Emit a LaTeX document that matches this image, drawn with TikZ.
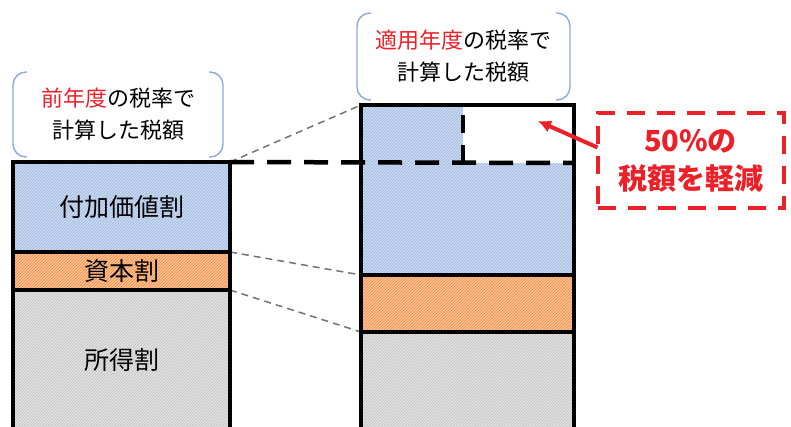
\documentclass[tikz,border=0pt]{standalone}
\usepackage{fontspec}
\setmainfont{Noto Sans CJK JP}
\usetikzlibrary{positioning, arrows.meta, patterns}
\definecolor{vablue}{HTML}{CCDBF0}
\definecolor{vabluedk}{HTML}{98B3DE}
\definecolor{caporange}{HTML}{FBC29A}
\definecolor{caporangedk}{HTML}{F48A36}
\definecolor{incgray}{HTML}{E4E4E4}
\definecolor{incgraydk}{HTML}{BDBDBD}
\definecolor{cutred}{HTML}{EC2028}
\definecolor{bracketblue}{HTML}{8EA9D8}
\tikzset{%
  >={Latex[width=13pt,length=13pt]},
  % Specifications for style of nodes:
  base/.style = {
    inner sep=0pt,
    outer sep=0pt,
    text centered,
    font=\fontsize{25}{28}\selectfont
  },
  segment/.style 2 args={base, anchor=north west,
    preaction={fill=#1},
    preaction={pattern=north east lines, pattern color=#2}},
  valueadd/.style={segment={vablue}{vabluedk}},
  capital/.style={segment={caporange}{caporangedk}},
  income/.style={segment={incgray}{incgraydk}},
  bubble/.style={base, align=center, font=\fontsize{22}{32}\selectfont},
  bracket/.style={draw=bracketblue, line width=1.4pt, rounded corners=13pt},
  frame/.style={draw=black, line width=3.5pt},
  guide/.style={draw=black!55, line width=1.5pt, dash pattern=on 7pt off 5pt},
  cutline/.style={draw=black, line width=4.5pt, dash pattern=on 24pt off 13pt},
  reduce/.style={base, align=center, draw=cutred, text=cutred, line width=4pt,
    dash pattern=on 18pt off 12pt, font=\bfseries\fontsize{29}{38}\selectfont},
}

\begin{document}
\begin{tikzpicture}[x=1pt, y=-1pt]
  \clip (0,0) rectangle (791,426);
  % nodes
  \node (lval) [valueadd, minimum width=217pt, minimum height=90pt] at (13,162) {付加価値割};
  \node (lcap) [capital, minimum width=217pt, minimum height=38pt, below=0pt of lval]
  {資本割};
  \node (linc) [income, minimum width=217pt, minimum height=140pt, below=0pt of lcap]
  {所得割};
  \node (rtop) [valueadd, minimum width=102pt, minimum height=58pt] at (361,105) {};
  \node (rcut) [base, anchor=north west, minimum width=111pt, minimum height=58pt,
    right=0pt of rtop] {};
  \node (rval) [valueadd, minimum width=213pt, minimum height=112pt] at (361,163) {};
  \node (rcap) [capital, minimum width=213pt, minimum height=57pt, below=0pt of rval] {};
  \node (rinc) [income, minimum width=213pt, minimum height=98pt, below=0pt of rcap] {};
  \node (bprev) [bubble, minimum width=210pt, minimum height=85pt] at (118,114.5)
  {\textcolor{cutred}{前年度}の税率で \\ 計算した税額};
  \node (bnow) [bubble, minimum width=213pt, minimum height=87pt] at (463.5,56.5)
  {\textcolor{cutred}{適用年度}の税率で \\ 計算した税額};
  \node (cut) [reduce, minimum width=186pt, minimum height=95pt] at (690.5,160.5)
  {50\%の \\ 税額を軽減};
  \coordinate (arrowtip) at (538,121);
  % lines
  \draw[bracket] ([xshift=14pt]bprev.north west) -- (bprev.north west)
    -- (bprev.south west) -- ([xshift=14pt]bprev.south west);
  \draw[bracket] ([xshift=-14pt]bprev.north east) -- (bprev.north east)
    -- (bprev.south east) -- ([xshift=-14pt]bprev.south east);
  \draw[bracket] ([xshift=14pt]bnow.north west) -- (bnow.north west)
    -- (bnow.south west) -- ([xshift=14pt]bnow.south west);
  \draw[bracket] ([xshift=-14pt]bnow.north east) -- (bnow.north east)
    -- (bnow.south east) -- ([xshift=-14pt]bnow.south east);
  \draw[guide] (lval.north east) -- (rtop.north west);
  \draw[guide] (lcap.north east) -- (rcap.north west);
  \draw[guide] (linc.north east) -- (rinc.north west);
  \draw[frame] (lval.north west) rectangle (linc.south east);
  \draw[frame] (lcap.north west) -- (lcap.north east);
  \draw[frame] (linc.north west) -- (linc.north east);
  \draw[frame] (rinc.south west) |- (rcut.north east) -- (rinc.south east);
  \draw[frame] (rcap.north west) -- (rcap.north east);
  \draw[frame] (rinc.north west) -- (rinc.north east);
  \draw[cutline] (lval.north east) -- (rcut.south east);
  \draw[cutline, dash pattern=on 18pt off 12pt] (rcut.south west) -- (rcut.north west);
  \draw[->, draw=cutred, line width=4pt] ([yshift=13pt]cut.west) -- (arrowtip);
\end{tikzpicture}
\end{document}
